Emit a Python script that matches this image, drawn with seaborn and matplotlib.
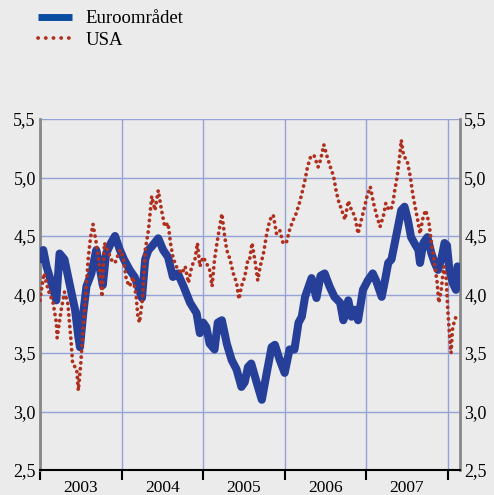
import numpy as np
import pandas as pd
import matplotlib
matplotlib.use('Agg')
import matplotlib.pyplot as plt
import seaborn as sns

# Euro area 10y yield (year fraction, percent)
eur_t = [2003.00, 2003.04, 2003.08, 2003.14, 2003.20, 2003.24, 2003.30, 2003.36, 2003.43, 2003.47,
         2003.49, 2003.53, 2003.57, 2003.63, 2003.69, 2003.73, 2003.77, 2003.81, 2003.87, 2003.92,
         2003.98, 2004.03, 2004.10, 2004.16, 2004.20, 2004.25, 2004.29, 2004.33, 2004.37, 2004.45,
         2004.51, 2004.57, 2004.63, 2004.69, 2004.76, 2004.84, 2004.92, 2004.96, 2005.00, 2005.04,
         2005.08, 2005.14, 2005.18, 2005.23, 2005.29, 2005.35, 2005.41, 2005.47, 2005.51, 2005.55,
         2005.59, 2005.66, 2005.72, 2005.78, 2005.84, 2005.88, 2005.94, 2006.00, 2006.06, 2006.12,
         2006.17, 2006.21, 2006.25, 2006.29, 2006.33, 2006.39, 2006.44, 2006.49, 2006.55, 2006.61,
         2006.68, 2006.72, 2006.78, 2006.82, 2006.86, 2006.90, 2006.96, 2007.02, 2007.08, 2007.12,
         2007.19, 2007.23, 2007.27, 2007.31, 2007.35, 2007.39, 2007.43, 2007.47, 2007.51, 2007.55,
         2007.59, 2007.64, 2007.66, 2007.70, 2007.75, 2007.80, 2007.84, 2007.88, 2007.92, 2007.96,
         2007.99, 2008.02, 2008.06, 2008.10, 2008.12]
eur_v = [4.30, 4.38, 4.24, 4.10, 3.95, 4.35, 4.30, 4.10, 3.87, 3.64,
         3.55, 3.84, 4.07, 4.18, 4.38, 4.24, 4.08, 4.35, 4.44, 4.50,
         4.38, 4.30, 4.21, 4.15, 4.07, 3.97, 4.30, 4.38, 4.41, 4.48,
         4.38, 4.32, 4.15, 4.18, 4.07, 3.93, 3.84, 3.67, 3.76, 3.72,
         3.58, 3.53, 3.76, 3.78, 3.58, 3.44, 3.36, 3.21, 3.25, 3.38,
         3.41, 3.24, 3.10, 3.33, 3.55, 3.57, 3.44, 3.33, 3.53, 3.53,
         3.76, 3.81, 3.98, 4.06, 4.14, 3.97, 4.16, 4.18, 4.07, 3.98,
         3.93, 3.78, 3.95, 3.81, 3.87, 3.78, 4.04, 4.12, 4.18, 4.12,
         3.98, 4.12, 4.27, 4.30, 4.44, 4.58, 4.72, 4.75, 4.64, 4.49,
         4.44, 4.38, 4.27, 4.44, 4.49, 4.35, 4.27, 4.21, 4.30, 4.44,
         4.42, 4.21, 4.10, 4.04, 4.24]

# USA 10y yield
usa_t = [2003.00, 2003.02, 2003.05, 2003.10, 2003.16, 2003.20, 2003.21, 2003.26, 2003.30, 2003.34,
         2003.38, 2003.40, 2003.45, 2003.47, 2003.50, 2003.53, 2003.56, 2003.59, 2003.62, 2003.65,
         2003.69, 2003.73, 2003.76, 2003.79, 2003.83, 2003.87, 2003.92, 2003.98, 2004.02, 2004.06,
         2004.10, 2004.14, 2004.18, 2004.20, 2004.22, 2004.26, 2004.29, 2004.33, 2004.37, 2004.41,
         2004.45, 2004.49, 2004.53, 2004.57, 2004.60, 2004.63, 2004.67, 2004.74, 2004.78, 2004.82,
         2004.86, 2004.90, 2004.93, 2004.96, 2005.00, 2005.04, 2005.08, 2005.11, 2005.14, 2005.17,
         2005.21, 2005.23, 2005.26, 2005.29, 2005.33, 2005.37, 2005.41, 2005.44, 2005.47, 2005.51,
         2005.55, 2005.57, 2005.60, 2005.64, 2005.67, 2005.70, 2005.74, 2005.78, 2005.82, 2005.86,
         2005.90, 2005.94, 2005.98, 2006.02, 2006.06, 2006.10, 2006.14, 2006.18, 2006.21, 2006.25,
         2006.28, 2006.32, 2006.36, 2006.41, 2006.44, 2006.48, 2006.52, 2006.56, 2006.60, 2006.63,
         2006.66, 2006.70, 2006.74, 2006.78, 2006.82, 2006.86, 2006.90, 2006.93, 2006.97, 2007.01,
         2007.05, 2007.09, 2007.13, 2007.17, 2007.21, 2007.24, 2007.28, 2007.32, 2007.35, 2007.38,
         2007.41, 2007.43, 2007.46, 2007.50, 2007.54, 2007.57, 2007.60, 2007.63, 2007.66, 2007.70,
         2007.73, 2007.77, 2007.80, 2007.83, 2007.87, 2007.89, 2007.92, 2007.95, 2007.98, 2008.00,
         2008.02, 2008.04, 2008.06, 2008.10, 2008.12]
usa_v = [3.95, 4.05, 4.18, 4.04, 3.93, 3.76, 3.63, 3.87, 4.02, 3.93,
         3.61, 3.41, 3.36, 3.18, 3.41, 3.72, 3.98, 4.30, 4.49, 4.60,
         4.44, 4.24, 3.98, 4.44, 4.38, 4.30, 4.27, 4.38, 4.32, 4.12,
         4.07, 4.15, 3.98, 3.81, 3.76, 3.98, 4.38, 4.55, 4.84, 4.72,
         4.89, 4.72, 4.58, 4.61, 4.44, 4.32, 4.24, 4.18, 4.24, 4.10,
         4.24, 4.30, 4.44, 4.24, 4.32, 4.27, 4.21, 4.07, 4.30, 4.44,
         4.61, 4.69, 4.52, 4.38, 4.30, 4.18, 4.10, 3.96, 4.07, 4.15,
         4.30, 4.30, 4.44, 4.27, 4.12, 4.24, 4.35, 4.52, 4.64, 4.68,
         4.52, 4.55, 4.44, 4.44, 4.55, 4.63, 4.69, 4.78, 4.86, 4.98,
         5.09, 5.18, 5.19, 5.09, 5.15, 5.28, 5.18, 5.09, 5.01, 4.89,
         4.80, 4.72, 4.64, 4.80, 4.72, 4.67, 4.52, 4.61, 4.72, 4.84,
         4.92, 4.78, 4.67, 4.58, 4.67, 4.78, 4.72, 4.75, 4.89, 5.01,
         5.18, 5.32, 5.18, 5.15, 5.01, 4.86, 4.75, 4.64, 4.52, 4.67,
         4.72, 4.61, 4.44, 4.30, 4.10, 3.93, 4.04, 4.24, 4.15, 3.87,
         3.67, 3.50, 3.72, 3.81, 3.84]

years = [2003, 2004, 2005, 2006, 2007]
yticks = [2.5, 3.0, 3.5, 4.0, 4.5, 5.0, 5.5]
ylabels = ['2,5', '3,0', '3,5', '4,0', '4,5', '5,0', '5,5']

bg = '#ebebeb'
blue = '#26409a'
red = '#b0301f'
grid = '#94a2d8'

plt.rcParams['font.family'] = ['Liberation Serif', 'DejaVu Serif']

fig = plt.figure(figsize=(4.94, 4.95), dpi=100, facecolor=bg)
ax = fig.add_axes([40/494, 25/495, 420/494, 351/495])
ax.set_facecolor(bg)

eur = pd.DataFrame({'t': eur_t, 'v': eur_v})
usa = pd.DataFrame({'t': usa_t, 'v': usa_v})

sns.lineplot(data=eur, x='t', y='v', ax=ax, color=blue, lw=5.8, sort=False,
             label='Euroområdet', solid_capstyle='round', solid_joinstyle='round', zorder=3)
sns.lineplot(data=usa, x='t', y='v', ax=ax, color=red, lw=2.7, sort=False,
             label='USA', linestyle=(0, (0.05, 1.5)), dash_capstyle='round', zorder=4)

ax.set_xlim(2003.0, 2008.15)
ax.set_ylim(2.5, 5.5)
ax.set_xlabel('')
ax.set_ylabel('')

# year boundaries as major ticks, labels centred on minor ticks
ax.set_xticks([y for y in years] + [2008])
ax.set_xticklabels([])
ax.set_xticks([y + 0.5 for y in years], minor=True)
ax.set_xticklabels([str(y) for y in years], minor=True)
ax.tick_params(axis='x', which='major', direction='out', length=7, width=1.5, color='black')
ax.tick_params(axis='x', which='minor', length=0, pad=7, labelsize=12.5)

ax.set_yticks(yticks)
ax.set_yticklabels(ylabels)
ax.tick_params(axis='y', length=0, pad=3, labelsize=13, labelright=True, right=False)

ax.grid(True, which='major', color=grid, lw=1)
ax.set_axisbelow(True)

for s in ['left', 'right']:
    ax.spines[s].set_color('#888888')
    ax.spines[s].set_linewidth(2)
ax.spines['bottom'].set_color('black')
ax.spines['bottom'].set_linewidth(1.5)
ax.spines['top'].set_visible(False)

# legend: flat blue sample, sparser red dots
ax.legend_.remove()
h, l = ax.get_legend_handles_labels()
h[0].set_color('#0a4da0')
h[0].set_linewidth(5)
h[0].set_solid_capstyle('butt')
h[1].set_linestyle((0, (0.05, 2.0)))
leg = fig.legend(h, l, loc='upper left', bbox_to_anchor=(38/494, 1 - 10/495), frameon=False,
                 fontsize=13.5, handlelength=1.8, handletextpad=0.75, labelspacing=0.25,
                 borderaxespad=0, borderpad=0)
h[0].set_color(blue)
h[0].set_linewidth(5.8)
h[0].set_solid_capstyle('round')
h[1].set_linestyle((0, (0.05, 1.5)))

fig.savefig('out.png', dpi=100, facecolor=bg)
